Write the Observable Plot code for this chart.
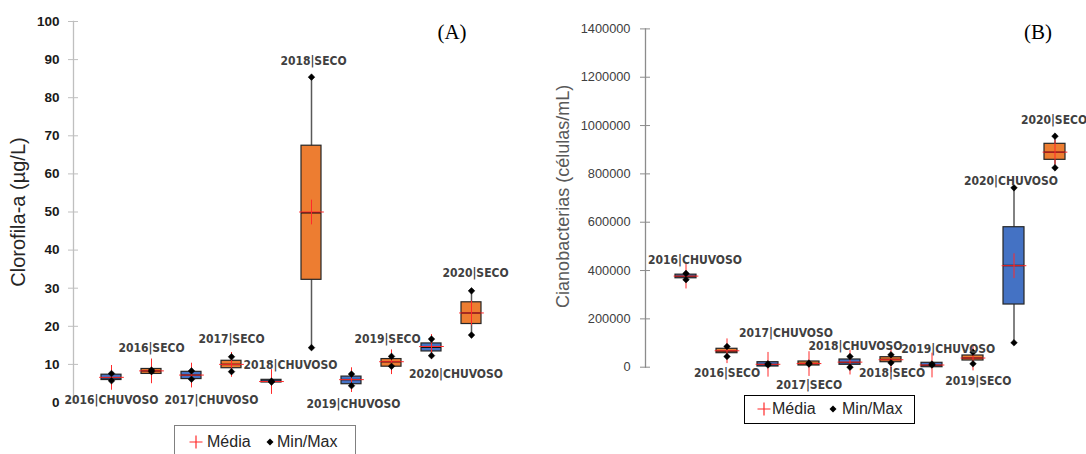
<!DOCTYPE html>
<html><head><meta charset="utf-8">
<script src="https://cdn.jsdelivr.net/npm/d3@7"></script>
<script src="https://cdn.jsdelivr.net/npm/@observablehq/plot@0.6"></script>
<style>
html,body{margin:0;padding:0;background:#fff;}
#wrap{position:relative;width:1086px;height:454px;overflow:hidden;}
#a,#b{position:absolute;top:0;}
#a{left:0;} #b{left:540px;}
.panel{position:absolute;font-family:"Liberation Serif","Times New Roman",serif;font-size:21px;color:#000;transform:translate(-50%,-50%);line-height:1;}
.legend{position:absolute;box-sizing:border-box;background:#fff;font-family:"Liberation Sans",Arial,sans-serif;font-size:16px;color:#262626;}
.legend span,.legend svg{position:absolute;line-height:1;}
</style></head>
<body><div id="wrap">
<div id="a"></div><div id="b"></div>
<div class="panel" style="left:452px;top:32px">(A)</div>
<div class="panel" style="left:1038px;top:32px">(B)</div>
<div class="legend" id="legA" style="left:174px;top:425px;width:182px;height:40px;border:1px solid #808080"></div>
<div class="legend" id="legB" style="left:744px;top:395px;width:171px;height:29px;border:1px solid #000"></div>
</div>
<script>
const categories = ["2016|CHUVOSO","2016|SECO","2017|CHUVOSO","2017|SECO","2018|CHUVOSO","2018|SECO","2019|CHUVOSO","2019|SECO","2020|CHUVOSO","2020|SECO"];

// (A) Clorofila-a (µg/L)
const chlMin    = [5.7, 8.1, 6.1, 8.1, 5.35, 14.4, 4.4, 9.5, 12.3, 17.7];
const chlQ1     = [5.9, 7.5, 6.15, 9.0, 5.25, 32.2, 4.8, 9.4, 13.4, 20.6];
const chlMedian = [6.5, 8.3, 7.2, 10.0, 5.6, 49.8, 6.0, 10.7, 14.5, 23.5];
const chlQ3     = [7.3, 8.8, 8.05, 10.95, 5.95, 67.4, 6.8, 11.4, 15.5, 26.3];
const chlMax    = [7.6, 8.5, 8.3, 12.0, 5.6, 85.4, 7.45, 12.1, 16.65, 29.3];
const chlMean   = [6.6, 8.3, 7.2, 10.0, 5.5, 50.0, 6.0, 10.7, 14.7, 23.5];
const chlTicks  = [0,10,20,30,40,50,60,70,80,90,100];

// (B) Cianobacterias (células/mL)
const cyaMin    = [362000, 44300, 9000, 13000, 0, 18200, 9000, 14100, 101000, 825100];
const cyaQ1     = [368000, 58000, 2900, 7000, 9900, 20700, 0, 27700, 259400, 858200];
const cyaMedian = [376000, 67000, 11000, 15000, 19500, 31900, 8000, 38000, 420800, 889600];
const cyaQ3     = [383000, 76200, 20700, 23600, 31900, 41400, 18200, 48400, 579300, 924400];
const cyaMax    = [388000, 85700, 14000, 17000, 44300, 51300, 13000, 62100, 742400, 956000];
const cyaMean   = [377000, 68000, 12000, 15000, 21000, 31000, 9000, 38000, 420000, 890000];
const cyaTicks  = [0,200000,400000,600000,800000,1000000,1200000,1400000];

const ORANGE = "#ED7D31", BLUE = "#4472C4";
const labelFont = '"DejaVu Sans Condensed","DejaVu Sans",sans-serif';

function rowsOf(mn,q1,md,q3,mx,me){
  return categories.map((c,i)=>({cat:c, season:c.split("|")[1], min:mn[i], q1:q1[i], median:md[i], q3:q3[i], max:mx[i], mean:me[i]}));
}

function boxChart(cfg){
  const rows = cfg.rows;
  const labelMarks = rows.map((r,i)=>{
    const [anchor, dx, dy] = cfg.labels[i];
    return Plot.text([r], {x:"cat", y:anchor, dx, dy, text:"cat", fontFamily:labelFont, fontWeight:"bold", fontSize:12, fill:"#404040"});
  });
  return Plot.plot({
    width: cfg.width, height: 454,
    marginLeft: cfg.marginLeft, marginTop: cfg.marginTop, marginBottom: cfg.marginBottom, marginRight: 0,
    style: {fontFamily:'"Liberation Sans",Arial,sans-serif', background:"#fff", overflow:"visible"},
    x: {type:"band", domain: categories, range: cfg.xRange, paddingInner:0.5, paddingOuter:0.25, axis:null},
    y: {domain: cfg.yDomain, axis:null},
    marks: [
      Plot.frame({anchor:"left", stroke: cfg.axisColor, strokeWidth: 1.3}),
      Plot.axisY(cfg.ticks, {tickSize: 10, dx: 5, tickFormat: () => "", stroke: cfg.axisColor, label:null}),
      Plot.axisY(cfg.ticks, {tickSize: 0, tickPadding: cfg.tickPad, tickFormat: cfg.tickFormat, fill: cfg.tickColor, fontSize: cfg.tickFontSize, fontWeight: cfg.tickWeight, label:null}),
      Plot.text([cfg.yTitle], {frameAnchor:"left", textAnchor:"middle", rotate:-90, dx: cfg.titleDx, dy: cfg.titleDy, text: d=>d, fontSize: cfg.titleSize, fill: cfg.titleColor, fontFamily:'"Liberation Sans",Arial,sans-serif'}),
      Plot.ruleX(rows, {x:"cat", y1:"min", y2:"max", stroke:"#595959", strokeWidth:1.5}),
      Plot.barY(rows, {x:"cat", y1:"q1", y2:"q3", fill: d => d.season === "SECO" ? ORANGE : BLUE, stroke:"#262626", strokeWidth:1.2}),
      Plot.tickY(rows, {x:"cat", y:"median", stroke:"#111", strokeWidth:1.5}),
      Plot.dot(rows, {x:"cat", y:"mean", symbol:"plus", r:8, stroke:"#ff2a2a", strokeWidth:1}),
      Plot.dot(rows, {x:"cat", y:"min", symbol:"diamond2", r:3, fill:"#000", stroke:"#000", strokeWidth:0.5}),
      Plot.dot(rows, {x:"cat", y:"max", symbol:"diamond2", r:3, fill:"#000", stroke:"#000", strokeWidth:0.5}),
      ...labelMarks
    ]
  });
}

const chartA = boxChart({
  rows: rowsOf(chlMin, chlQ1, chlMedian, chlQ3, chlMax, chlMean),
  width: 540, marginLeft: 73, marginTop: 21, marginBottom: 52,
  xRange: [90.7, 491], yDomain: [0,100], ticks: chlTicks,
  axisColor: "#bfbfbf", tickColor: "#1a1a1a", tickFontSize: 13.5, tickWeight: "bold", tickPad: 14,
  tickFormat: d3.format("d"),
  yTitle: "Clorofila-a (µg/L)", titleDx: -55, titleDy: 0, titleColor: "#262626", titleSize: 20,
  labels: [["min",0,19],["max",0,-22],["min",20,20.5],["max",0,-18],["max",19,-15.6],
           ["max",2,-16.4],["min",2,18],["max",-4,-17.6],["min",24.5,19],["max",4,-18]]
});
const chartB = boxChart({
  rows: rowsOf(cyaMin, cyaQ1, cyaMedian, cyaQ3, cyaMax, cyaMean),
  width: 546, marginLeft: 105, marginTop: 28.4, marginBottom: 87.3,
  xRange: [124.45, 535.45], yDomain: [0,1400000], ticks: cyaTicks,
  axisColor: "#8c8c8c", tickColor: "#404040", tickFontSize: 12.8, tickWeight: "normal", tickPad: 15,
  tickFormat: d3.format("d"),
  yTitle: "Cianobacterias (células/mL)", titleDx: -82.3, titleDy: -1.7, titleColor: "#595959", titleSize: 18,
  labels: [["max",9,-13],["min",0,17],["max",18,-31],["min",0,21.4],["max",5.5,-10.3],
           ["min",1,10.4],["max",16.3,-14.6],["min",5.3,17.7],["max",-3,-7],["max",-1,-16.5]]
});
document.getElementById("a").appendChild(chartA);
document.getElementById("b").appendChild(chartB);

function legend(el, items){
  const plusX = items[0], mediaX = items[1], diaX = items[2], minmaxX = items[3], cy = items[4];
  el.innerHTML =
    `<svg width="14" height="14" style="left:${plusX-7}px;top:${cy-7}px"><path d="M7,0.5V13.5M0.5,7H13.5" stroke="#ff2a2a" stroke-width="1.2"/></svg>` +
    `<span style="left:${mediaX}px;top:${cy-8}px">Média</span>` +
    `<svg width="8" height="8" style="left:${diaX-4}px;top:${cy-4}px"><path d="M4,0.5L7.5,4L4,7.5L0.5,4Z" fill="#000"/></svg>` +
    `<span style="left:${minmaxX}px;top:${cy-8}px">Min/Max</span>`;
}
legend(document.getElementById("legA"), [21, 32, 95, 102, 16]);
legend(document.getElementById("legB"), [19, 27, 88, 97, 13]);
</script>
</body></html>
